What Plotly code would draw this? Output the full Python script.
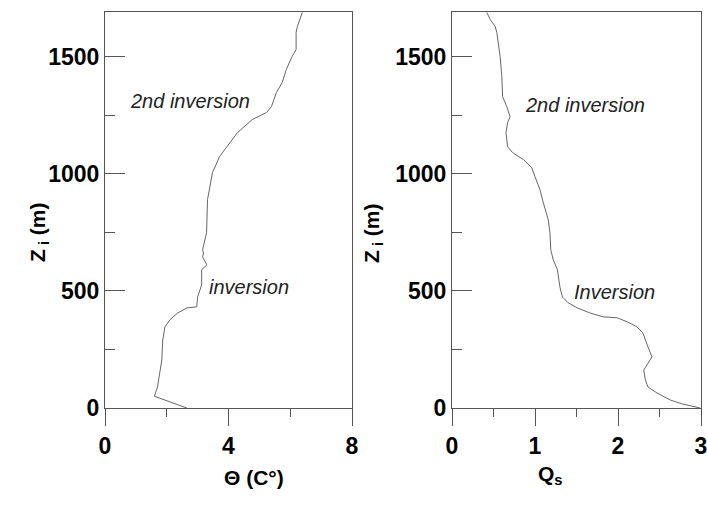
import plotly.graph_objects as go
from plotly.subplots import make_subplots

# Potential temperature profile (left panel)
theta = [2.65, 1.6, 1.7, 1.84, 1.87, 1.94, 2.1, 2.35, 2.65, 2.97, 3.0, 3.13, 3.13, 3.3, 3.16,
         3.19, 3.16, 3.29, 3.32, 3.39, 3.48, 3.71, 4.03, 4.29, 4.77, 5.23, 5.39, 5.55, 5.74,
         5.87, 6.06, 6.19, 6.19, 6.23, 6.39]
z_theta = [0, 50, 90, 205, 290, 346, 376, 405, 427, 432, 474, 525, 590, 611, 645,
           662, 675, 748, 889, 944, 1004, 1073, 1132, 1175, 1231, 1261, 1286, 1346, 1389,
           1444, 1500, 1530, 1603, 1628, 1688]

# Qs profile (right panel)
qs = [2.99, 2.78, 2.63, 2.47, 2.36, 2.33, 2.31, 2.41, 2.36, 2.30, 2.23, 2.11, 1.99, 1.82,
      1.66, 1.51, 1.40, 1.33, 1.30, 1.27, 1.22, 1.19, 1.18, 1.16, 1.10, 1.06, 1.00, 0.96,
      0.86, 0.73, 0.67, 0.65, 0.67, 0.70, 0.66, 0.61, 0.60, 0.58, 0.54, 0.52, 0.46, 0.42]
z_qs = [0, 17, 34, 64, 90, 120, 162, 218, 261, 320, 346, 368, 385, 389,
        406, 427, 449, 474, 517, 590, 632, 675, 748, 803, 876, 932, 987, 1026,
        1060, 1090, 1115, 1175, 1218, 1244, 1286, 1329, 1415, 1500, 1603, 1628, 1658, 1688]

W, H = 707, 507


def px(x):
    return x / W


def py(y):
    return 1 - y / H


fig = make_subplots(rows=1, cols=2)

fig.add_trace(go.Scatter(x=theta, y=z_theta, mode="lines",
                         line=dict(color="#666666", width=1), showlegend=False), row=1, col=1)
fig.add_trace(go.Scatter(x=qs, y=z_qs, mode="lines",
                         line=dict(color="#666666", width=1), showlegend=False), row=1, col=2)

tickfont = dict(family="Arial, Liberation Sans", size=23, color="black", weight="bold")
axcol = "#555555"

xcommon = dict(showgrid=False, zeroline=False, showline=True, linecolor=axcol, linewidth=1,
               mirror=True, ticks="outside", ticklen=17, tickcolor=axcol, tickfont=tickfont,
               automargin=False, ticklabeloverflow="allow")
ycommon = dict(showgrid=False, zeroline=False, showline=True, linecolor=axcol, linewidth=1,
               mirror=True, ticks="inside", ticklen=20, tickcolor=axcol, tickfont=tickfont,
               range=[0, 1690], tickmode="linear", tick0=0, dtick=500, automargin=False,
               minor=dict(ticks="inside", ticklen=10, tickcolor=axcol, dtick=250, showgrid=False))

fig.update_xaxes(**xcommon, range=[0, 8], tickmode="linear", tick0=0, dtick=4,
                 minor=dict(ticks="outside", ticklen=8, tickcolor=axcol, dtick=2, showgrid=False),
                 domain=[px(105), px(352)], row=1, col=1)
fig.update_xaxes(**xcommon, range=[0, 3], tickmode="linear", tick0=0, dtick=1,
                 minor=dict(ticks="outside", ticklen=8, tickcolor=axcol, dtick=0.5, showgrid=False),
                 domain=[px(452), px(701)], row=1, col=2)
fig.update_yaxes(**ycommon, domain=[py(408), py(12)], row=1, col=1)
fig.update_yaxes(**ycommon, domain=[py(408), py(12)], row=1, col=2)

titlefont = dict(family="Arial, Liberation Sans", size=21, color="black")
notefont = dict(family="Arial, Liberation Sans", size=20, color="#222222", style="italic")

annotations = [
    dict(text="<b>Z<sub> i</sub> (m)</b>", x=px(24), y=py(232), textangle=-90,
         xref="paper", yref="paper", showarrow=False, font=titlefont),
    dict(text="<b>Z<sub> i</sub> (m)</b>", x=px(373), y=py(233), textangle=-90,
         xref="paper", yref="paper", showarrow=False, font=titlefont),
    dict(text="<b>Θ (C°)</b>", x=px(222), y=py(491),
         xref="paper", yref="paper", showarrow=False, font=titlefont),
    dict(text="<b>Q<sub>s</sub></b>", x=px(565), y=py(490),
         xref="paper", yref="paper", showarrow=False, font=titlefont),
    dict(text="2nd inversion", x=2.74, y=1312, xref="x", yref="y", showarrow=False, font=notefont),
    dict(text="inversion", x=4.68, y=517, xref="x", yref="y", showarrow=False, font=notefont),
    dict(text="2nd inversion", x=1.60, y=1295, xref="x2", yref="y2", showarrow=False, font=notefont),
    dict(text="Inversion", x=1.96, y=496, xref="x2", yref="y2", showarrow=False, font=notefont),
]

fig.update_layout(width=W, height=H, margin=dict(l=0, r=0, t=0, b=0),
                  paper_bgcolor="white", plot_bgcolor="white", annotations=annotations)

# drop the page margin and scrollbars so the figure fills the window
fig.write_html("out.html", config={"displayModeBar": False},
               post_script="document.body.style.margin='0';"
                           "document.documentElement.style.overflow='hidden';")
